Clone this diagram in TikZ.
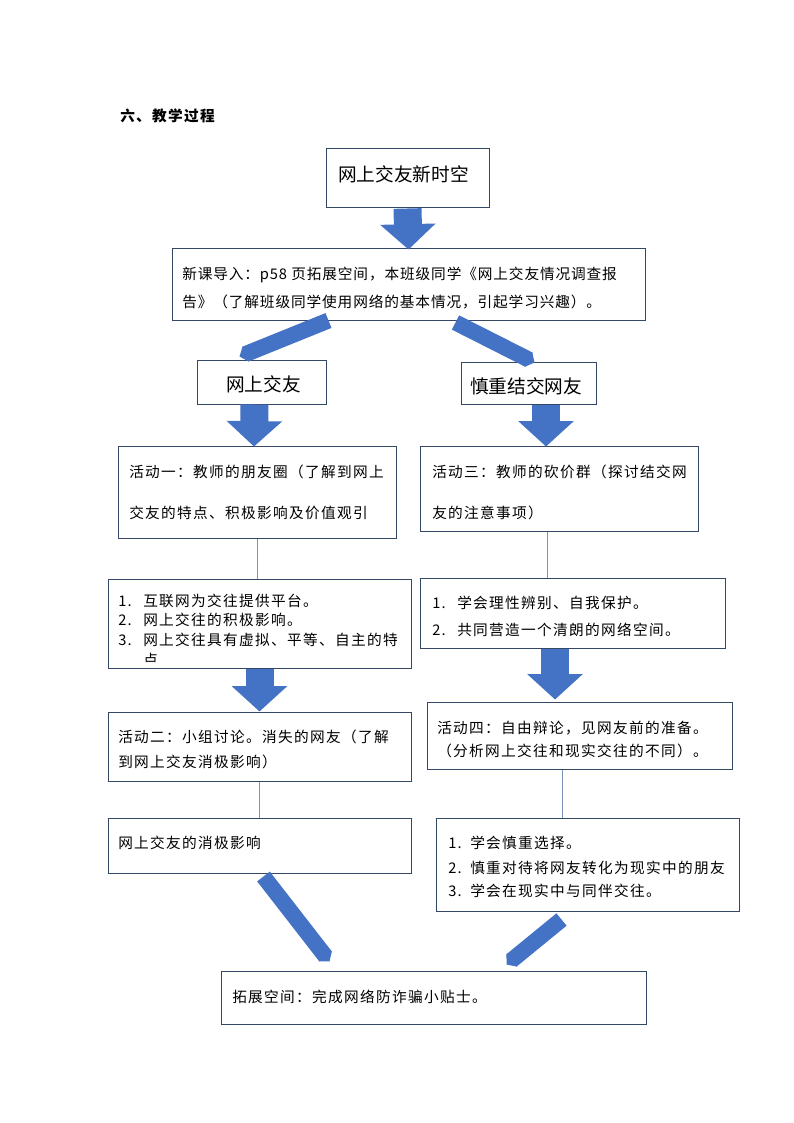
\documentclass[tikz,border=0pt]{standalone}
\usepackage{fontspec}
\setmainfont{Noto Sans CJK SC}
\newfontfamily\bodyfont{Noto Sans CJK SC}[LetterSpace=9]
\newfontfamily\narrowfont{Noto Sans CJK SC}[LetterSpace=6]
\newfontfamily\bigfont{Noto Sans CJK SC}
\usetikzlibrary{arrows.meta,calc,fit}
\definecolor{boxc}{RGB}{52,72,102}
\definecolor{arrc}{RGB}{68,114,196}
\definecolor{thinc}{RGB}{120,146,184}
\begin{document}
\begin{tikzpicture}[x=0.75pt,y=-0.75pt,
  box/.style={draw=boxc,line width=0.75pt,inner sep=0pt},
  txt/.style={inner sep=0pt,anchor=west,text=black,font=\bodyfont\fontsize{11}{13}\selectfont},
  ntxt/.style={inner sep=0pt,anchor=west,text=black,font=\narrowfont\fontsize{11}{13}\selectfont},
  ttl/.style={inner sep=0pt,anchor=west,text=black,font=\bigfont\fontsize{14}{16}\selectfont},
  head/.style={inner sep=0pt,anchor=west,text=black,font=\bodyfont\bfseries\fontsize{11}{13}\selectfont},
  fat/.style={draw=arrc,line width=21pt,-{Triangle[width=40.5pt,length=19pt]}},
  slim/.style={draw=arrc,line width=12pt,-{Triangle[width=12pt,length=5pt]}},
  thin/.style={draw=thinc,line width=0.75pt}]
\fill[white] (0,0) rectangle (793,1123);
\useasboundingbox (0,0) rectangle (793,1123);

% title
\node[head] (title) at (120,116) {六、教学过程};

% boxes
\node[box,fit={(326,149) (489,208)}] (B1) {};
\node[box,fit={(172,248) (645,320)}] (B2) {};
\node[box,fit={(197,360) (326,404)}] (B3) {};
\node[box,fit={(461,362) (596,404)}] (B4) {};
\node[box,fit={(118,446) (396,538)}] (A1) {};
\node[box,fit={(420,446) (698,531)}] (A3) {};
\node[box,fit={(108,579) (411,668)}] (L1) {};
\node[box,fit={(420,578) (725,648)}] (L2) {};
\node[box,fit={(108,712) (411,781)}] (A2) {};
\node[box,fit={(427,702) (732,769)}] (A4) {};
\node[box,fit={(108,818) (411,873)}] (N) {};
\node[box,fit={(436,818) (739,911)}] (L3) {};
\node[box,fit={(221,971) (646,1024)}] (F) {};

% texts
\node[ttl] (tB1) at (338,174) {网上交友新时空};
\node[ntxt] (tB2a) at (182,275) {新课导入：p58 页拓展空间，本班级同学《网上交友情况调查报};
\node[ntxt] (tB2b) at (182,302) {告》（了解班级同学使用网络的基本情况，引起学习兴趣）。};
\node[ttl] (tB3) at (226,384) {网上交友};
\node[ttl] (tB4) at (470,386) {慎重结交网友};
\node[txt] (tA1a) at (129,472) {活动一：教师的朋友圈（了解到网上};
\node[txt] (tA1b) at (129,513) {交友的特点、积极影响及价值观引};
\node[txt] (tA3a) at (432,472) {活动三：教师的砍价群（探讨结交网};
\node[txt] (tA3b) at (432,513) {友的注意事项）};
\node[txt] (nL1a) at (118,601) {1.};
\node[txt] (tL1a) at (143,601) {互联网为交往提供平台。};
\node[txt] (nL1b) at (118,620) {2.};
\node[txt] (tL1b) at (143,620) {网上交往的积极影响。};
\node[txt] (nL1c) at (118,640) {3.};
\node[txt] (tL1c) at (143,640) {网上交往具有虚拟、平等、自主的特};
\begin{scope}
\clip (108,579) rectangle (411,662);
\node[txt] (tL1d) at (143,660) {点};
\end{scope}
\node[txt] (nL2a) at (432,603) {1.};
\node[txt] (tL2a) at (457,603) {学会理性辨别、自我保护。};
\node[txt] (nL2b) at (432,630) {2.};
\node[txt] (tL2b) at (457,630) {共同营造一个清朗的网络空间。};
\node[txt] (tA2a) at (118,737) {活动二：小组讨论。消失的网友（了解};
\node[txt] (tA2b) at (118,762) {到网上交友消极影响）};
\node[txt] (tA4a) at (437,728) {活动四：自由辩论，见网友前的准备。};
\node[txt] (tA4b) at (437,751) {（分析网上交往和现实交往的不同）。};
\node[txt] (tN) at (118,843) {网上交友的消极影响};
\node[txt] (nL3a) at (448,843) {1.};
\node[txt] (tL3a) at (470,843) {学会慎重选择。};
\node[txt] (nL3b) at (448,868) {2.};
\node[txt] (tL3b) at (470,868) {慎重对待将网友转化为现实中的朋友};
\node[txt] (nL3c) at (448,891) {3.};
\node[txt] (tL3c) at (470,891) {学会在现实中与同伴交往。};
\node[txt] (tF) at (232,997) {拓展空间：完成网络防诈骗小贴士。};

% thin connectors
\coordinate (c1) at (A1.south);
\coordinate (c2) at ($(A3.south)+(-12,0)$);
\coordinate (c3) at (A2.south);
\coordinate (c4) at ($(A4.south)+(-17.5,0)$);
\draw[thin] (c1) -- (c1 |- L1.north);
\draw[thin] (c2) -- (c2 |- L2.north);
\draw[thin] (c3) -- (c3 |- N.north);
\draw[thin] (c4) -- (c4 |- L3.north);

% block arrows
\draw[fat] (B1.south) -- ($(B2.north)+(0,2)$);
\draw[fat] ($(B3.south)+(-7,0)$) -- ($(A1.north)+(-3,1)$);
\draw[fat] ($(B4.south)+(17.5,0)$) -- ($(A3.north)+(-13,1)$);
\draw[fat] (L1.south) -- ($(A2.north)+(0,0)$);
\draw[fat] ($(L2.south)+(-17.5,0)$) -- ($(A4.north)+(-24.5,-2)$);

% slanted arrows
\draw[slim] ($(B2.south west)+(157,0)$) -- ($(B3.north west)+(43,-3)$);
\draw[slim] ($(B2.south west)+(284,2)$) -- ($(B4.north west)+(74,1)$);
\draw[slim] ($(N.south west)+(156,3)$) -- ($(F.north west)+(109,-9)$);
\draw[slim] ($(L3.south west)+(126,8)$) -- ($(F.north west)+(286,-6)$);
\end{tikzpicture}
\end{document}
